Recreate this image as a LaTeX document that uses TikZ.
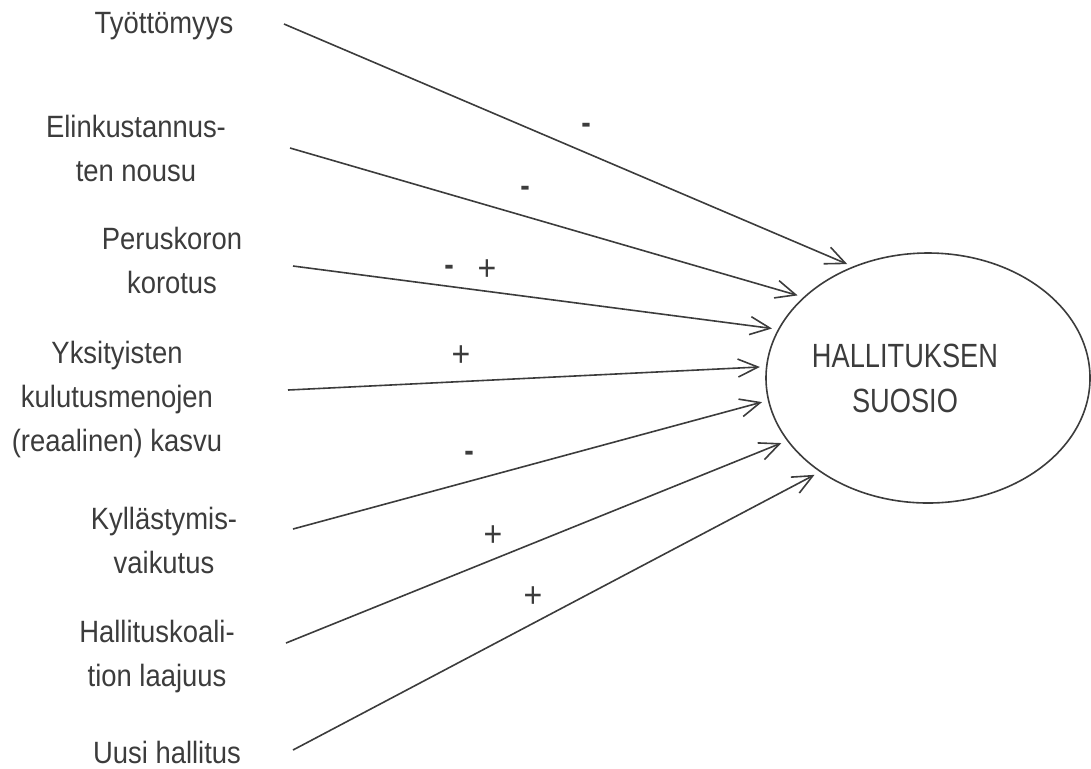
\documentclass[tikz,border=0pt]{standalone}
\usepackage{fontspec}
\setmainfont{Liberation Sans}[FakeStretch=0.89]
\newfontfamily\narrowfont{Liberation Sans}[FakeStretch=0.81]
\usetikzlibrary{shapes, arrows.meta}
\tikzset{>={Straight Barb[length=10pt, width=9pt]}}
\definecolor{inkgray}{RGB}{60, 60, 60}
\tikzset{
  factor/.style = {align=center, inner sep=0, text=inkgray, font=\fontsize{15.4}{22}\selectfont},
  sign/.style = {inner sep=0, text=inkgray, font=\fontsize{18}{22}\selectfont},
  minus/.style = {sign, font=\fontsize{16}{22}\selectfont\bfseries, yshift=-2.5pt},
  effect/.style = {->, draw=inkgray, line width=0.8pt, shorten >=3pt}
}

\begin{document}
\begin{tikzpicture}[x=0.5pt, y=-0.5pt]
\useasboundingbox (0,0) rectangle (1091,768);
\node[ellipse, draw=inkgray, line width=0.8pt, minimum width=162pt, minimum height=125pt, inner sep=0] (suosio) at (928,378) {};
\node[align=center, inner sep=0, text=inkgray, font=\narrowfont\fontsize{16.8}{22.5}\selectfont] (suosioteksti) at (905,378) {HALLITUKSEN\\SUOSIO};
\node[factor] (tyottomyys) at (164,26) {Työttömyys};
\node[factor] (elinkust) at (136,148) {Elinkustannus-\\ten nousu};
\node[factor] (peruskorko) at (172,260) {Peruskoron\\korotus};
\node[factor] (kulutus) at (117,400) {Yksityisten\\kulutusmenojen\\(reaalinen) kasvu};
\node[factor] (kyllastyminen) at (164,540) {Kyllästymis-\\vaikutus};
\node[factor] (koalitio) at (157,657) {Hallituskoali-\\tion laajuus};
\node[factor] (uusi) at (167,752) {Uusi hallitus};
\coordinate (s1) at (284,24);
\coordinate (s2) at (290,148);
\coordinate (s3) at (293,266);
\coordinate (s4) at (288,390);
\coordinate (s5) at (293,529);
\coordinate (s6) at (286,643);
\coordinate (s7) at (293,750);
\draw[effect] (s1) -- (suosio.124);
\draw[effect] (s2) -- (suosio.147);
\draw[effect] (s3) -- (suosio.162.6);
\draw[effect] (s4) -- (suosio.176.3);
\draw[effect] (s5) -- (suosio.188.5);
\draw[effect] (s6) -- (suosio.204.5);
\draw[effect] (s7) -- (suosio.221);
\node[minus] (m1) at (586,123) {-};
\node[minus] (m2) at (525,186) {-};
\node[minus] (m3) at (449,265) {-};
\node[sign] (p3) at (487,270) {+};
\node[sign] (p4) at (461,356) {+};
\node[minus] (m5) at (469,451) {-};
\node[sign] (p6) at (493,536) {+};
\node[sign] (p7) at (533,597) {+};
\end{tikzpicture}
\end{document}
